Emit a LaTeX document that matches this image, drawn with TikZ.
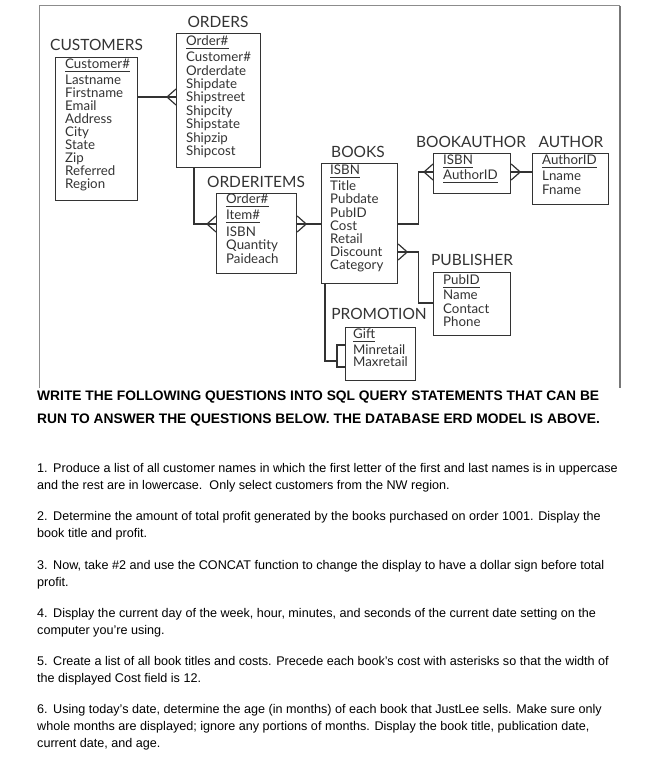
\documentclass[tikz,border=0pt]{standalone}
\usepackage{fontspec}
\setmainfont{Liberation Sans}
\newfontfamily\erdfam{Lato}
\definecolor{erd}{HTML}{333333}
\definecolor{framec}{HTML}{8C8C8C}
\newcommand\erdlab{\erdfam\fontsize{15.5}{17}\selectfont}
\newcommand\erdatt{\erdfam\fontsize{13.3}{14}\selectfont}
\newcommand\headfont{\bfseries\fontsize{13.8}{15}\selectfont}
\newcommand\bodyfont{\fontsize{12.6}{14}\selectfont}
\newcommand\num[1]{\makebox[16pt][l]{#1}}
\tikzset{
  ent/.style={draw=erd, line width=1.2pt, inner sep=0pt, anchor=north west},
  lab/.style={font=\erdlab, text=erd, inner sep=0pt},
  att/.style={font=\erdatt, text=erd, inner sep=0pt, anchor=mid west},
  link/.style={draw=erd, line width=1.2pt},
  uline/.style={draw=erd, line width=0.9pt},
  body/.style={font=\bodyfont, text=black, inner sep=0pt, anchor=mid west},
  head/.style={font=\headfont, text=black, inner sep=0pt, anchor=mid west},
}
\newcommand\crowL[1]{\draw[link] ([xshift=-9pt]#1) -- ([yshift=8pt]#1) ([xshift=-9pt]#1) -- ([yshift=-8pt]#1);}
\newcommand\crowR[1]{\draw[link] ([xshift=9pt]#1) -- ([yshift=8pt]#1) ([xshift=9pt]#1) -- ([yshift=-8pt]#1);}
\newcommand\ul[1]{\draw[uline] ([yshift=-2.5pt]#1.base west) -- ([yshift=-2.5pt]#1.base east);}
\begin{document}
\begin{tikzpicture}[x=1pt,y=-1pt]
\useasboundingbox (0,0) rectangle (649,760);
% frame
\draw[framec, line width=1pt] (39,388) -- (39,6) -- (620,6);
\draw[framec!85!black, line width=1.8pt] (620,6) -- (620,388);

% ---- entity boxes
\node[ent, minimum width=82pt, minimum height=143pt] (cust) at (55,57) {};
\node[ent, minimum width=84pt, minimum height=134pt] (ord) at (176,33) {};
\node[ent, minimum width=80pt, minimum height=80pt] (oi) at (216,193) {};
\node[ent, minimum width=76pt, minimum height=120pt] (books) at (321,163) {};
\node[ent, minimum width=77pt, minimum height=40pt] (ba) at (433,153) {};
\node[ent, minimum width=76pt, minimum height=51pt] (auth) at (532,153) {};
\node[ent, minimum width=77pt, minimum height=63pt] (pub) at (433,272) {};
\node[ent, minimum width=70pt, minimum height=53pt] (promo) at (345,327) {};

% ---- labels
\node[lab] (custL) at (96.5,45) {CUSTOMERS};
\node[lab] (ordL) at (218,22) {ORDERS};
\node[lab] (oiL) at (256,182) {ORDERITEMS};
\node[lab] (booksL) at (358,152) {BOOKS};
\node[lab] (baL) at (471,142) {BOOKAUTHOR};
\node[lab] (authL) at (571,142) {AUTHOR};
\node[lab] (pubL) at (472,260) {PUBLISHER};
\node[lab] (promoL) at (379,314) {PROMOTION};

% ---- attributes
\node[att] (c0) at (65,66) {Customer\#}; \ul{c0}
\foreach \t [count=\i] in {Lastname,Firstname,Email,Address,City,State,Zip,Referred,Region}
  \node[att] (c\i) at (65,{82+13*(\i-1)}) {\t};

\node[att] (o0) at (186,43) {Order\#}; \ul{o0}
\foreach \t [count=\i] in {Customer\#,Orderdate,Shipdate,Shipstreet,Shipcity,Shipstate,Shipzip,Shipcost}
  \node[att] (o\i) at (186,{59+13.4*(\i-1)}) {\t};

\node[att] (i1) at (226,201) {Order\#}; \ul{i1}
\node[att] (i2) at (226,217) {Item\#}; \ul{i2}
\node[att] (i3) at (226,234) {ISBN};
\node[att] (i4) at (226,247) {Quantity};
\node[att] (i5) at (226,261) {Paideach};

\node[att] (b0) at (330,172) {ISBN}; \ul{b0}
\foreach \t [count=\i] in {Title,Pubdate,PubID,Cost,Retail,Discount,Category}
  \node[att] (b\i) at (330,{188+13.2*(\i-1)}) {\t};

\node[att] (ba1) at (443,162) {ISBN}; \ul{ba1}
\node[att] (ba2) at (443,177) {AuthorID}; \ul{ba2}

\node[att] (a1) at (542,162) {AuthorID}; \ul{a1}
\node[att] (a2) at (542,178) {Lname};
\node[att] (a3) at (542,192) {Fname};

\node[att] (p1) at (443,282) {PubID}; \ul{p1}
\node[att] (p2) at (443,297) {Name};
\node[att] (p3) at (443,311) {Contact};
\node[att] (p4) at (443,324) {Phone};

\node[att] (g1) at (353,336) {Gift}; \ul{g1}
\node[att] (g2) at (353,352) {Minretail};
\node[att] (g3) at (353,364) {Maxretail};

% ---- connectors
\coordinate (k1) at ([yshift=-40pt]cust.north east);
\coordinate (k2) at ([yshift=-64pt]ord.north west);
\draw[link] (k1) -- (k2); \crowL{k2}

\coordinate (k3) at ([xshift=18pt]ord.south west);
\coordinate (k4) at ([yshift=-31pt]oi.north west);
\draw[link] (k3) |- (k4); \crowL{k4}

\coordinate (k5) at ([yshift=-31pt]oi.north east);
\coordinate (k6) at ([yshift=-61pt]books.north west);
\draw[link] (k5) -- (k6); \crowR{k5}

\coordinate (k7) at ([yshift=-61pt]books.north east);
\coordinate (k8) at ([yshift=-19pt]ba.north west);
\draw[link] (k7) -- ++(20,0) |- (k8); \crowL{k8}

\coordinate (k9) at ([yshift=-19pt]ba.north east);
\coordinate (k10) at ([yshift=-19pt]auth.north west);
\draw[link] (k9) -- (k10); \crowR{k9}

\coordinate (k11) at ([yshift=-89pt]books.north east);
\coordinate (k12) at ([yshift=-31pt]pub.north west);
\draw[link] (k11) -- ++(20,0) |- (k12); \crowR{k11}

\coordinate (k13) at ([xshift=4pt]books.south west);
\coordinate (k14) at ([yshift=-18pt]promo.north west);
\coordinate (k15) at ([yshift=-40pt]promo.north west);
\draw[link] (k14) -- ++(-8,0) coordinate (k16) -- ++(0,22) -- (k15);
\draw[link] (k13) |- ([xshift=-8pt,yshift=-16pt]k14);

% ---- text below
\node[head] (h1) at (37,398) {WRITE THE FOLLOWING QUESTIONS INTO SQL QUERY STATEMENTS THAT CAN BE};
\node[head] (h2) at (37,421) {RUN TO ANSWER THE QUESTIONS BELOW. THE DATABASE ERD MODEL IS ABOVE.};

\node[body] (q1a) at (37,470) {\num{1.}Produce a list of all customer names in which the first letter of the first and last names is in uppercase};
\node[body] (q1b) at (37,487) {and the rest are in lowercase.\ \ Only select customers from the NW region.};
\node[body] (q2a) at (37,518) {\num{2.}Determine the amount of total profit generated by the books purchased on order 1001. Display the};
\node[body] (q2b) at (37,535) {book title and profit.};
\node[body] (q3a) at (37,567) {\num{3.}Now, take \#2 and use the CONCAT function to change the display to have a dollar sign before total};
\node[body] (q3b) at (37,584) {profit.};
\node[body] (q4a) at (37,615) {\num{4.}Display the current day of the week, hour, minutes, and seconds of the current date setting on the};
\node[body] (q4b) at (37,632) {computer you’re using.};
\node[body] (q5a) at (37,663) {\num{5.}Create a list of all book titles and costs. Precede each book’s cost with asterisks so that the width of};
\node[body] (q5b) at (37,680) {the displayed Cost field is 12.};
\node[body] (q6a) at (37,711) {\num{6.}Using today’s date, determine the age (in months) of each book that JustLee sells. Make sure only};
\node[body] (q6b) at (37,728) {whole months are displayed; ignore any portions of months. Display the book title, publication date,};
\node[body] (q6c) at (37,745) {current date, and age.};
\end{tikzpicture}
\end{document}
